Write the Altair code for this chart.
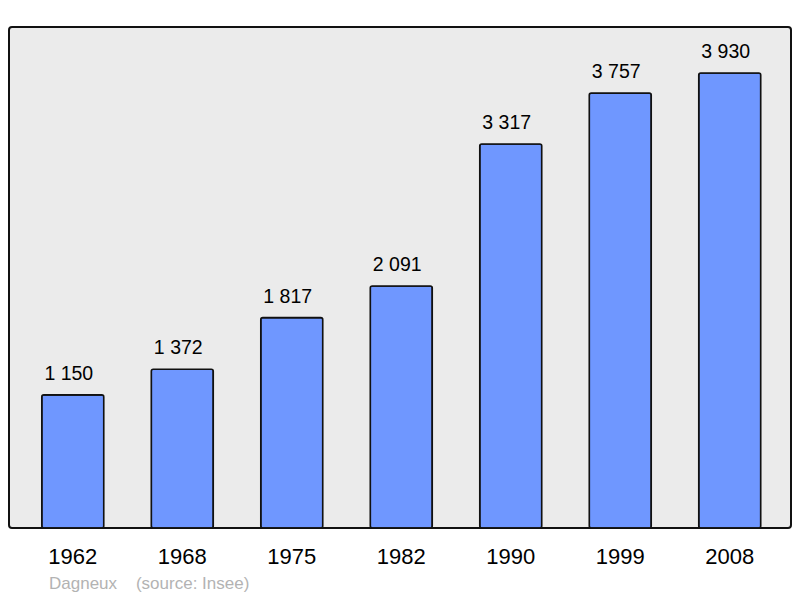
import altair as alt
import pandas as pd

years = ["1962", "1968", "1975", "1982", "1990", "1999", "2008"]
population = [1150, 1372, 1817, 2091, 3317, 3757, 3930]
labels = ["1 150", "1 372", "1 817", "2 091", "3 317", "3 757", "3 930"]

df = pd.DataFrame({"year": years, "pop": population, "label": labels})

FONT = "Liberation Sans"

x = alt.X("year:N", sort=years,
          scale=alt.Scale(paddingInner=0.434, paddingOuter=0.288, align=0.52),
          axis=alt.Axis(title=None, labelAngle=0, domain=False, ticks=False,
                        labelFontSize=22, labelFont=FONT, labelColor="#000000",
                        labelPadding=18, grid=False))
y = alt.Y("pop:Q", scale=alt.Scale(domain=[0, 4328], nice=False, zero=True), axis=None)

bars = alt.Chart(df).mark_bar(
    color="#6f97ff", stroke="#111111", strokeWidth=1.6, cornerRadius=2
).encode(x=x, y=y)

text = alt.Chart(df).mark_text(
    font=FONT, fontSize=19.5, color="#000000", baseline="alphabetic", dy=-15, dx=-4
).encode(x=x, y=y, text="label:N")

chart = (bars + text).properties(
    width=782, height=501,
    padding={"left": 1, "top": 19, "right": 1, "bottom": 72},
    autosize=alt.AutoSizeParams(type="none"),
    title=alt.TitleParams(
        text="Dagneux\u00a0\u00a0\u00a0\u00a0(source: Insee)",
        orient="bottom", anchor="start", frame="group",
        font=FONT, fontSize=17, fontWeight="normal", color="#b3b3b3",
        dx=40, offset=9,
    ),
).configure_view(
    stroke="#111111", strokeWidth=2, fill="#ebebeb", cornerRadius=3
)

chart.save("out.html", embed_options={"renderer": "svg", "actions": False})
